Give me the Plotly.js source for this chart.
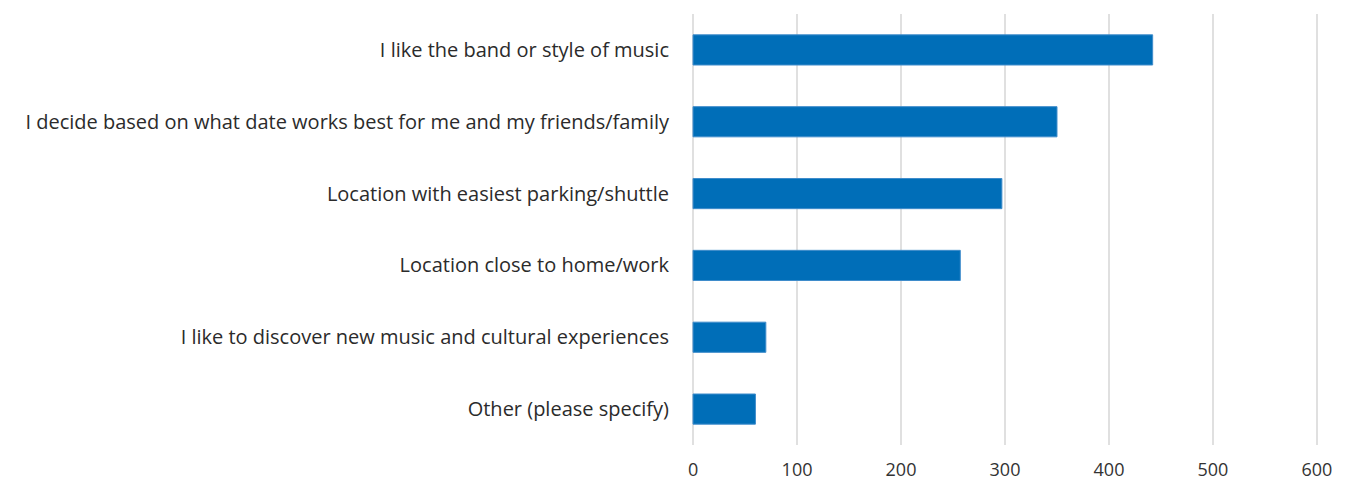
<!DOCTYPE html>
<html><head><meta charset="utf-8">
<script src="https://cdn.plot.ly/plotly-3.0.1.min.js"></script>
<style>html,body{margin:0;padding:0;background:#fff}#chart{width:1356px;height:491px}</style>
</head><body><div id="chart"></div>
<script>
const categories = [
  "I like the band or style of music",
  "I decide based on what date works best for me and my friends/family",
  "Location with easiest parking/shuttle",
  "Location close to home/work",
  "I like to discover new music and cultural experiences",
  "Other (please specify)"
];
const values = [442, 350, 297, 257, 70, 60];
const tickVals = [0, 100, 200, 300, 400, 500, 600];

Plotly.newPlot('chart', [{
  type: 'bar', orientation: 'h',
  x: values, y: categories,
  width: 0.42,
  marker: {color: '#006EB8', line: {color: '#3F8CCB', width: 1}},
  hoverinfo: 'x+y'
}], {
  width: 1356, height: 491,
  margin: {l: 692, r: 38, t: 14, b: 46, pad: 0},
  paper_bgcolor: '#fff', plot_bgcolor: '#fff',
  font: {family: 'Open Sans, Noto Sans, sans-serif', color: '#2b2b2b', size: 17},
  showlegend: false,
  xaxis: {range: [-1, 601], tickvals: tickVals, ticktext: tickVals.map(String),
    showgrid: true, gridcolor: '#e0e0e0', gridwidth: 1.5, zeroline: false,
    showline: false, ticks: '', ticklabelstandoff: 12,
    tickfont: {size: 18, color: '#333'}},
  yaxis: {type: 'category', autorange: false, range: [5.5, -0.5],
    showgrid: false, zeroline: false, showline: false, ticks: '',
    ticklabelstandoff: 22, tickfont: {size: 20, color: '#2b2b2b'}}
}, {displayModeBar: false, staticPlot: true});
</script></body></html>
